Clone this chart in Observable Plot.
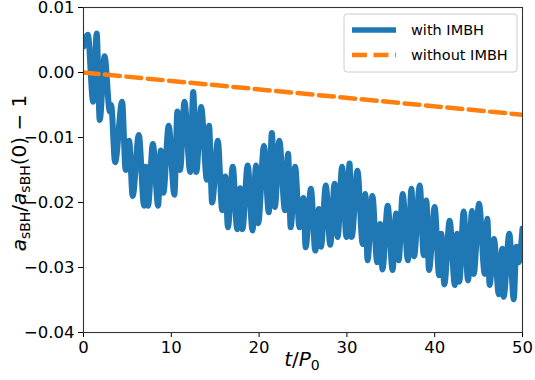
<!DOCTYPE html>
<html><head><meta charset="utf-8">
<script src="https://cdn.jsdelivr.net/npm/d3@7"></script>
<script src="https://cdn.jsdelivr.net/npm/@observablehq/plot@0.6"></script>
<style>
body{margin:0;background:#fff;}
#wrap{position:relative;width:535px;height:380px;}
</style></head><body><div id="wrap"></div>
<script>
// "with IMBH": time (t/P0) of read-off turning points
const tWith = [0, 0.5, 1.1, 1.5, 1.85, 2.4, 3.0, 3.15, 3.6, 4.4, 4.8, 5.2, 5.6, 6.3, 6.9, 7.1, 7.35, 7.9, 8.5, 8.8, 9.1, 9.7, 10.35, 10.7, 11.0, 11.5, 12.15, 12.5, 12.85, 13.4, 14.05, 14.3, 14.65, 15.3, 15.8, 16.15, 16.45, 17.0, 17.5, 17.85, 18.1, 18.7, 19.25, 19.65, 19.9, 20.55, 21.1, 21.45, 21.8, 22.3, 22.95, 23.3, 23.6, 24.1, 24.6, 25.05, 25.3, 25.9, 26.4, 26.8, 27.05, 27.6, 28.1, 28.6, 28.95, 29.45, 29.95, 30.3, 30.55, 31.2, 31.8, 32.1, 32.35, 32.9, 33.45, 33.8, 34.05, 34.65, 35.2, 35.6, 35.9, 36.35, 36.95, 37.35, 37.65, 38.3, 38.75, 39.05, 39.35, 40.0, 40.5, 40.75, 41.1, 41.7, 42.3, 42.55, 42.8, 43.3, 43.8, 44.25, 44.45, 45.05, 45.7, 46.0, 46.25, 46.75, 47.3, 47.7, 47.85, 48.5, 49.0, 49.3, 49.55, 50];
const aWith = [0.004, 0.0058, -0.0045, 0.006, -0.0073, 0.0025, -0.006, -0.005, -0.0138, -0.0045, -0.015, -0.0105, -0.019, -0.0096, -0.0205, -0.0145, -0.0205, -0.011, -0.0205, -0.012, -0.0185, -0.0082, -0.0188, -0.006, -0.015, -0.0045, -0.0153, -0.003, -0.0153, -0.0053, -0.0165, -0.0082, -0.02, -0.0105, -0.0212, -0.016, -0.0238, -0.0145, -0.0241, -0.0178, -0.0241, -0.0143, -0.0243, -0.0143, -0.0232, -0.0113, -0.0215, -0.0093, -0.0207, -0.0105, -0.0212, -0.0125, -0.0238, -0.0145, -0.0238, -0.0193, -0.0269, -0.0179, -0.0274, -0.021, -0.0268, -0.0174, -0.0265, -0.0171, -0.0253, -0.0145, -0.0253, -0.014, -0.0253, -0.0151, -0.0264, -0.0187, -0.0289, -0.019, -0.0292, -0.0233, -0.0303, -0.0205, -0.0304, -0.0217, -0.0289, -0.0187, -0.0289, -0.0179, -0.0283, -0.0174, -0.0281, -0.0197, -0.0304, -0.0207, -0.0312, -0.0248, -0.0326, -0.0228, -0.0327, -0.0248, -0.0322, -0.0214, -0.032, -0.0213, -0.031, -0.0202, -0.031, -0.0225, -0.0327, -0.0256, -0.0341, -0.0271, -0.0345, -0.0248, -0.0349, -0.0268, -0.0292, -0.024];
// "without IMBH"
const tWithout = [0, 50];
const aWithout = [0, -0.0065];
// axes
const xTicks = [0, 10, 20, 30, 40, 50];
const yTicks = [-0.04, -0.03, -0.02, -0.01, 0.00, 0.01];
const seriesNames = ["with IMBH", "without IMBH"];
const seriesColors = ["#1f77b4", "#ff7f0e"];

const withData = tWith.map((t, i) => ({t, a: aWith[i]}));
const withoutData = tWithout.map((t, i) => ({t, a: aWithout[i]}));

const plot = Plot.plot({
  width: 535, height: 380,
  marginLeft: 83, marginRight: 13, marginTop: 7, marginBottom: 48,
  style: {fontFamily: "DejaVu Sans", fontSize: "16.5px", background: "white", color: "black"},
  x: {domain: [0, 50], ticks: xTicks, tickSize: 5, tickPadding: 4, label: null},
  y: {domain: [-0.04, 0.01], ticks: yTicks, tickFormat: d3.format(".2f"), tickSize: 5, tickPadding: 4, label: null},
  marks: [
    Plot.line(withData, {x: "t", y: "a", stroke: seriesColors[0], strokeWidth: 6, curve: "monotone-x", clip: true}),
    Plot.line(withoutData, {x: "t", y: "a", stroke: seriesColors[1], strokeWidth: 4.5, strokeDasharray: "15,6.5", clip: true}),
    Plot.frame({stroke: "#333", strokeWidth: 1.1})
  ]
});
document.getElementById("wrap").appendChild(plot);

const svg = d3.select(plot);
const font = "DejaVu Sans";

// y label
const yl = svg.append("text")
  .attr("transform", "translate(26,173) rotate(-90)")
  .attr("text-anchor", "middle")
  .attr("font-family", font).attr("font-size", 20).attr("fill", "black");
yl.append("tspan").attr("font-style", "italic").text("a");
yl.append("tspan").attr("font-size", 14).attr("dy", 4).text("sBH");
yl.append("tspan").attr("dy", -4).text("/");
yl.append("tspan").attr("font-style", "italic").text("a");
yl.append("tspan").attr("font-size", 14).attr("dy", 4).text("sBH");
yl.append("tspan").attr("dy", -4).text("(0) − 1");

// x label
const xl = svg.append("text")
  .attr("x", 302).attr("y", 366)
  .attr("text-anchor", "middle")
  .attr("font-family", font).attr("font-size", 20).attr("fill", "black");
xl.append("tspan").attr("font-style", "italic").text("t");
xl.append("tspan").text("/");
xl.append("tspan").attr("font-style", "italic").text("P");
xl.append("tspan").attr("font-size", 14).attr("dy", 4).text("0");

// legend
const lg = svg.append("g").attr("text-anchor", "start");
lg.append("rect").attr("x", 344).attr("y", 14).attr("width", 173).attr("height", 58)
  .attr("rx", 3).attr("fill", "white").attr("fill-opacity", 0.8).attr("stroke", "#cccccc");
lg.append("line").attr("x1", 352).attr("x2", 396).attr("y1", 30).attr("y2", 30)
  .attr("stroke", seriesColors[0]).attr("stroke-width", 5.5);
lg.append("line").attr("x1", 352).attr("x2", 396).attr("y1", 55).attr("y2", 55)
  .attr("stroke", seriesColors[1]).attr("stroke-width", 4.5).attr("stroke-dasharray", "15,6.5");
lg.append("text").attr("x", 411).attr("y", 35).attr("font-family", font).attr("font-size", 14.5).attr("text-anchor", "start").text(seriesNames[0]);
lg.append("text").attr("x", 411).attr("y", 60).attr("font-family", font).attr("font-size", 14.5).attr("text-anchor", "start").text(seriesNames[1]);
</script>
</body></html>
